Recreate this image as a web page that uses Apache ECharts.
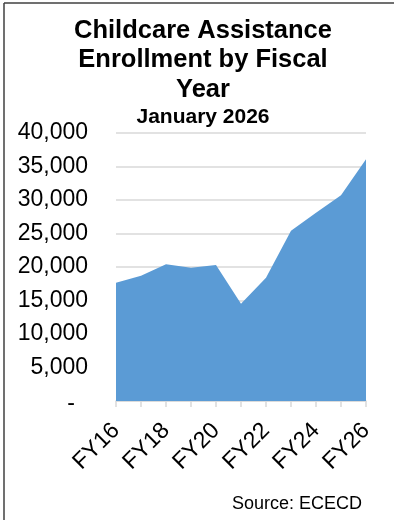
<!DOCTYPE html>
<html>
<head>
<meta charset="utf-8">
<style>
  html, body { margin: 0; padding: 0; background: #fff; }
  #chart { width: 394px; height: 520px; }
</style>
<script src="https://cdn.jsdelivr.net/npm/echarts@6/dist/echarts.min.js"></script>
</head>
<body>
<div id="chart"></div>
<script>
// Fiscal years on the category axis
const fiscalYears = ['FY16', 'FY17', 'FY18', 'FY19', 'FY20', 'FY21', 'FY22', 'FY23', 'FY24', 'FY25', 'FY26'];
// Childcare assistance enrollment for each fiscal year
const enrollment = [17650, 18700, 20400, 19900, 20300, 14500, 18400, 25400, 28100, 30700, 36100];
// Value axis range and step
const yMin = 0;
const yMax = 40000;
const yStep = 5000;

const FONT = '"Liberation Sans", Arial, sans-serif';
const chart = echarts.init(document.getElementById('chart'));

chart.setOption({
  backgroundColor: '#fff',
  animation: false,
  title: [
    {
      text: 'Childcare Assistance\nEnrollment by Fiscal\nYear',
      left: 203,
      top: 16,
      textAlign: 'center',
      padding: 0,
      textStyle: { fontFamily: FONT, fontSize: 25.5, fontWeight: 'bold', color: '#000', lineHeight: 29.5 }
    },
    {
      text: 'January 2026',
      left: 203,
      top: 107,
      textAlign: 'center',
      padding: 0,
      textStyle: { fontFamily: FONT, fontSize: 21, fontWeight: 'bold', color: '#000', lineHeight: 21 }
    },
    {
      text: 'Source: ECECD',
      right: 32,
      top: 495,
      padding: 0,
      textStyle: { fontFamily: FONT, fontSize: 18, fontWeight: 'normal', color: '#000', lineHeight: 18 }
    }
  ],
  graphic: [
    { type: 'line', shape: { x1: 4, y1: 3, x2: 394, y2: 3 }, style: { stroke: '#404040', lineWidth: 1.5 } },
    { type: 'line', shape: { x1: 4, y1: 3, x2: 4, y2: 520 }, style: { stroke: '#404040', lineWidth: 1.5 } }
  ],
  grid: { left: 116, right: 28, top: 133, bottom: 119, outerBoundsMode: 'none' },
  xAxis: {
    type: 'category',
    data: fiscalYears,
    boundaryGap: false,
    axisLine: { show: true, lineStyle: { color: '#d9d9d9', width: 1.5 } },
    axisTick: { show: true, length: 6, interval: 0, lineStyle: { color: '#d9d9d9', width: 1.5 } },
    axisLabel: {
      interval: 1,
      rotate: 45,
      margin: 26,
      fontFamily: FONT,
      fontSize: 23,
      color: '#000'
    },
    splitLine: { show: false }
  },
  yAxis: {
    type: 'value',
    min: yMin,
    max: yMax,
    interval: yStep,
    axisLine: { show: false },
    axisTick: { show: false },
    axisLabel: {
      margin: 28,
      fontFamily: FONT,
      fontSize: 23,
      color: '#000',
      formatter: function (v) {
        return v === 0 ? '{dash|-}' : v.toLocaleString('en-US');
      },
      rich: {
        dash: { fontFamily: FONT, fontSize: 23, color: '#000', padding: [6, 13, 0, 0] }
      }
    },
    splitLine: { show: true, lineStyle: { color: '#d9d9d9', width: 1.5 } }
  },
  series: [
    {
      type: 'line',
      data: enrollment,
      showSymbol: false,
      symbol: 'none',
      lineStyle: { width: 0 },
      areaStyle: { color: '#5b9bd5', opacity: 1 },
      itemStyle: { color: '#5b9bd5' },
      z: 3
    }
  ]
});
</script>
</body>
</html>
